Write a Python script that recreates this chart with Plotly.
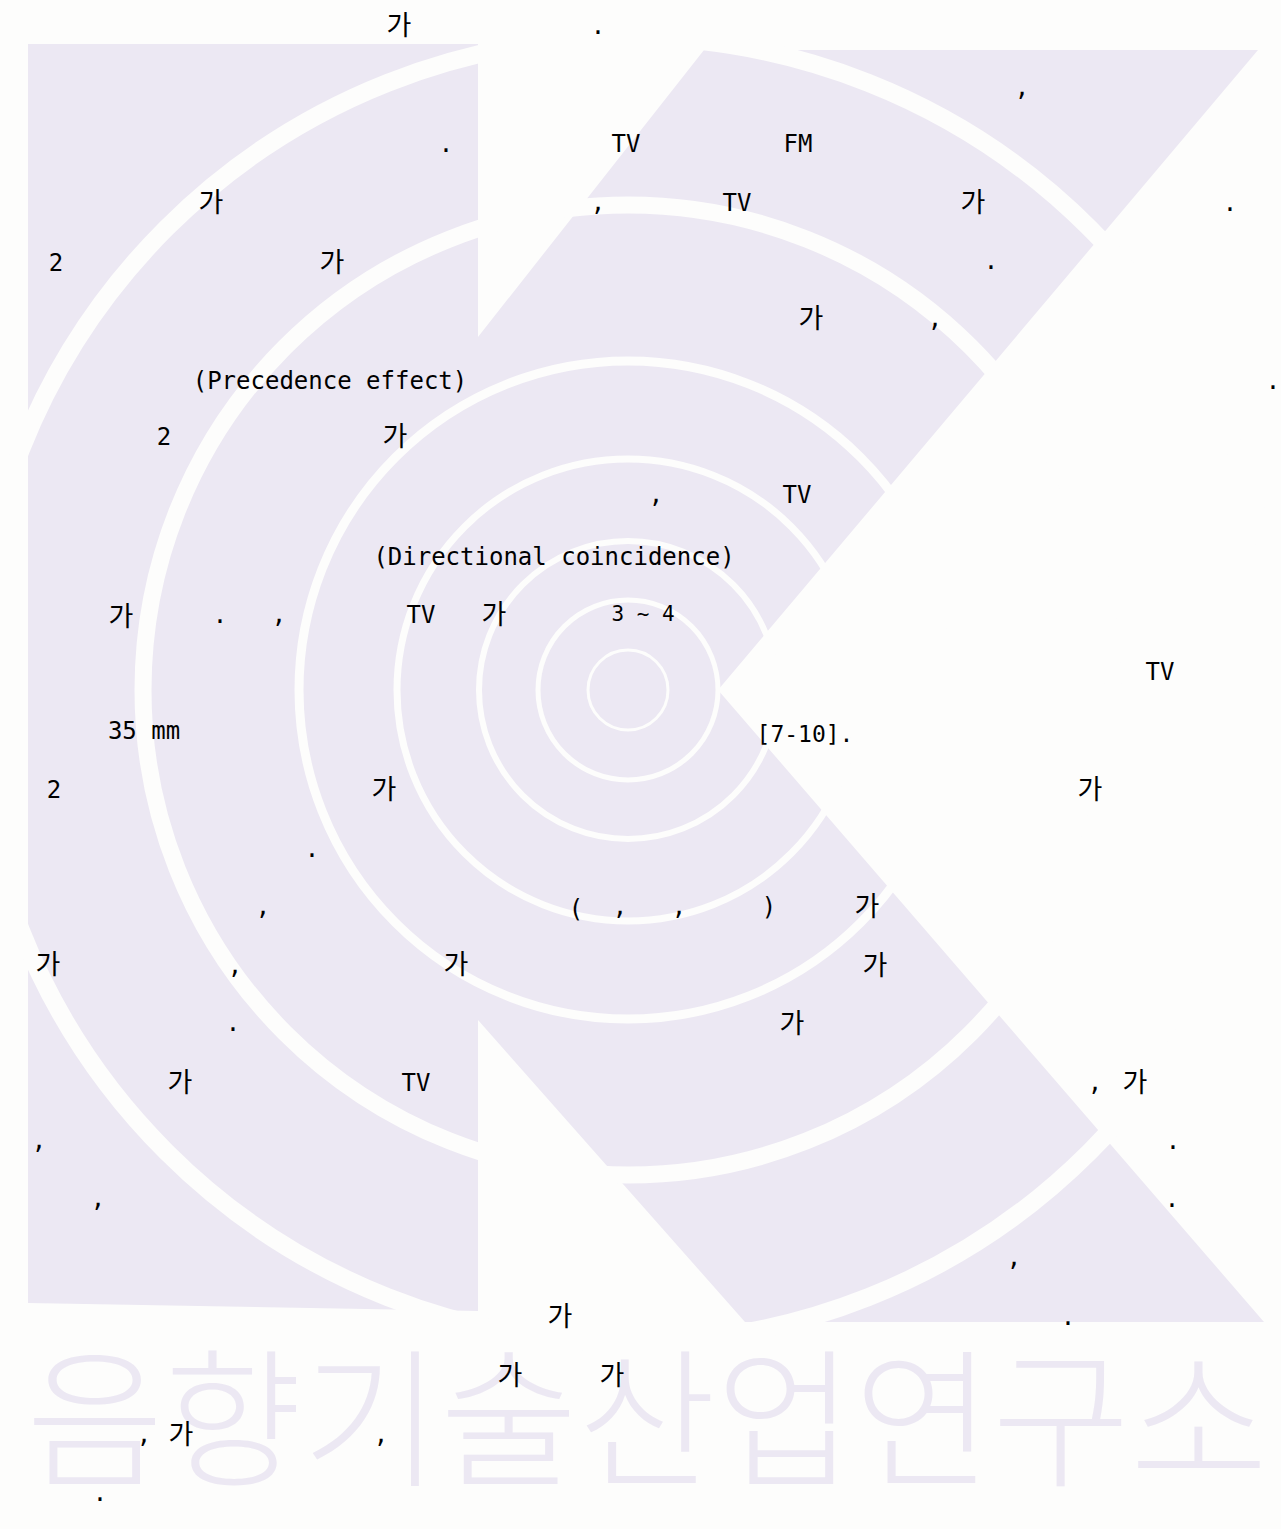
import plotly.graph_objects as go

# ---------------- page / palette ----------------
PAGE_W, PAGE_H = 1281, 1529
BG = "#FDFDFC"
LAVENDER = "#ECE8F3"
INK = "#000000"

# ---------------- watermark logo geometry ----------------
LOGO_BAR_X = [28, 478, 478, 28]
LOGO_BAR_Y = [44, 44, 1311, 1303]
LOGO_ARM_X = [478, 704, 1258, 718, 1264, 745, 478]
LOGO_ARM_Y = [337, 50, 50, 690, 1322, 1322, 1020]
RING_CX, RING_CY = 628, 690
RING_RADII = [40, 90, 149, 231, 329, 485, 653]
RING_WIDTHS = [3, 5, 6, 7, 9, 17, 18]

WATERMARK_TEXT = "음향기술산업연구소"
WATERMARK_X, WATERMARK_Y = 647, 1437

# ---------------- text fragments ----------------
HANGUL_TEXT = ["가"] * 21
HANGUL_X = [399, 211, 973, 332, 811, 395, 121, 494, 384, 1090, 867,
            48, 456, 875, 792, 180, 1135, 560, 510, 612, 181]
HANGUL_Y = [28, 205, 205, 265, 321, 439, 619, 617, 792, 792, 909,
            967, 967, 968, 1026, 1085, 1085, 1319, 1378, 1378, 1437]

LATIN_TEXT = [".", ",", ".", "TV", "FM", ",", "TV", ".", "2", ".", ",",
              "(Precedence effect)", ".", "2", ",", "TV",
              "(Directional coincidence)", ".", ",", "TV", "3 ~ 4", "TV",
              "35 mm", "[7-10].", "2", ".", ",", "(", ",", ",", ")", ",",
              ".", "TV", ",", ",", ".", ",", ".", ",", ".", ",", ",", "."]
LATIN_X = [598, 1022, 446, 626, 798, 598, 737, 1230, 56, 991, 935,
           330, 1273, 164, 656, 797,
           554, 220, 279, 421, 643, 1160,
           144, 805, 54, 312, 263, 576, 620, 679, 769, 235,
           233, 416, 1095, 39, 1173, 98, 1172, 1014, 1068, 144, 381, 100]
LATIN_Y = [28, 90, 146, 146, 146, 205, 205, 205, 265, 263, 321,
           383, 383, 439, 497, 497,
           559, 617, 617, 617, 616, 674,
           733, 736, 792, 851, 909, 911, 909, 909, 909, 968,
           1025, 1085, 1085, 1143, 1143, 1201, 1201, 1260, 1319, 1437, 1437, 1495]
LATIN_SIZE = [24] * len(LATIN_TEXT)
LATIN_SIZE[LATIN_TEXT.index("3 ~ 4")] = 21
LATIN_SIZE[LATIN_TEXT.index("[7-10].")] = 23

# ---------------- build figure ----------------
def poly_path(xs, ys):
    pts = " L ".join(f"{x},{y}" for x, y in zip(xs, ys))
    return f"M {pts} Z"

shapes = [
    dict(type="path", path=poly_path(LOGO_BAR_X, LOGO_BAR_Y), xref="x", yref="y",
         fillcolor=LAVENDER, line=dict(width=0), layer="below"),
    dict(type="path", path=poly_path(LOGO_ARM_X, LOGO_ARM_Y), xref="x", yref="y",
         fillcolor=LAVENDER, line=dict(width=0), layer="below"),
]
for r, w in zip(RING_RADII, RING_WIDTHS):
    shapes.append(dict(type="circle", xref="x", yref="y",
                       x0=RING_CX - r, x1=RING_CX + r, y0=RING_CY - r, y1=RING_CY + r,
                       line=dict(color=BG, width=w), fillcolor="rgba(0,0,0,0)",
                       layer="below"))

fig = go.Figure()

fig.add_trace(go.Scatter(
    x=[WATERMARK_X], y=[WATERMARK_Y], text=[WATERMARK_TEXT], mode="text",
    textposition="middle center", hoverinfo="skip", showlegend=False,
    textfont=dict(family="Noto Sans CJK KR", size=150, color=LAVENDER, weight=300),
))

fig.add_trace(go.Scatter(
    x=HANGUL_X, y=HANGUL_Y, text=HANGUL_TEXT, mode="text",
    textposition="middle center", hoverinfo="skip", showlegend=False,
    textfont=dict(family="Noto Sans CJK KR", size=27, color=INK),
))

fig.add_trace(go.Scatter(
    x=LATIN_X, y=LATIN_Y, text=LATIN_TEXT, mode="text",
    textposition="middle center", hoverinfo="skip", showlegend=False,
    textfont=dict(family="DejaVu Sans Mono", size=LATIN_SIZE, color=INK),
))

fig.update_layout(
    width=PAGE_W, height=PAGE_H, autosize=False,
    margin=dict(l=0, r=0, t=0, b=0, pad=0),
    paper_bgcolor=BG, plot_bgcolor=BG,
    shapes=shapes, showlegend=False,
    xaxis=dict(range=[0, PAGE_W], visible=False, fixedrange=True, showgrid=False, zeroline=False),
    yaxis=dict(range=[PAGE_H, 0], visible=False, fixedrange=True, showgrid=False, zeroline=False),
)

fig.write_html(
    "out.html",
    config=dict(displayModeBar=False),
    post_script="document.body.style.margin='0';document.body.style.background='" + BG + "';",
)
